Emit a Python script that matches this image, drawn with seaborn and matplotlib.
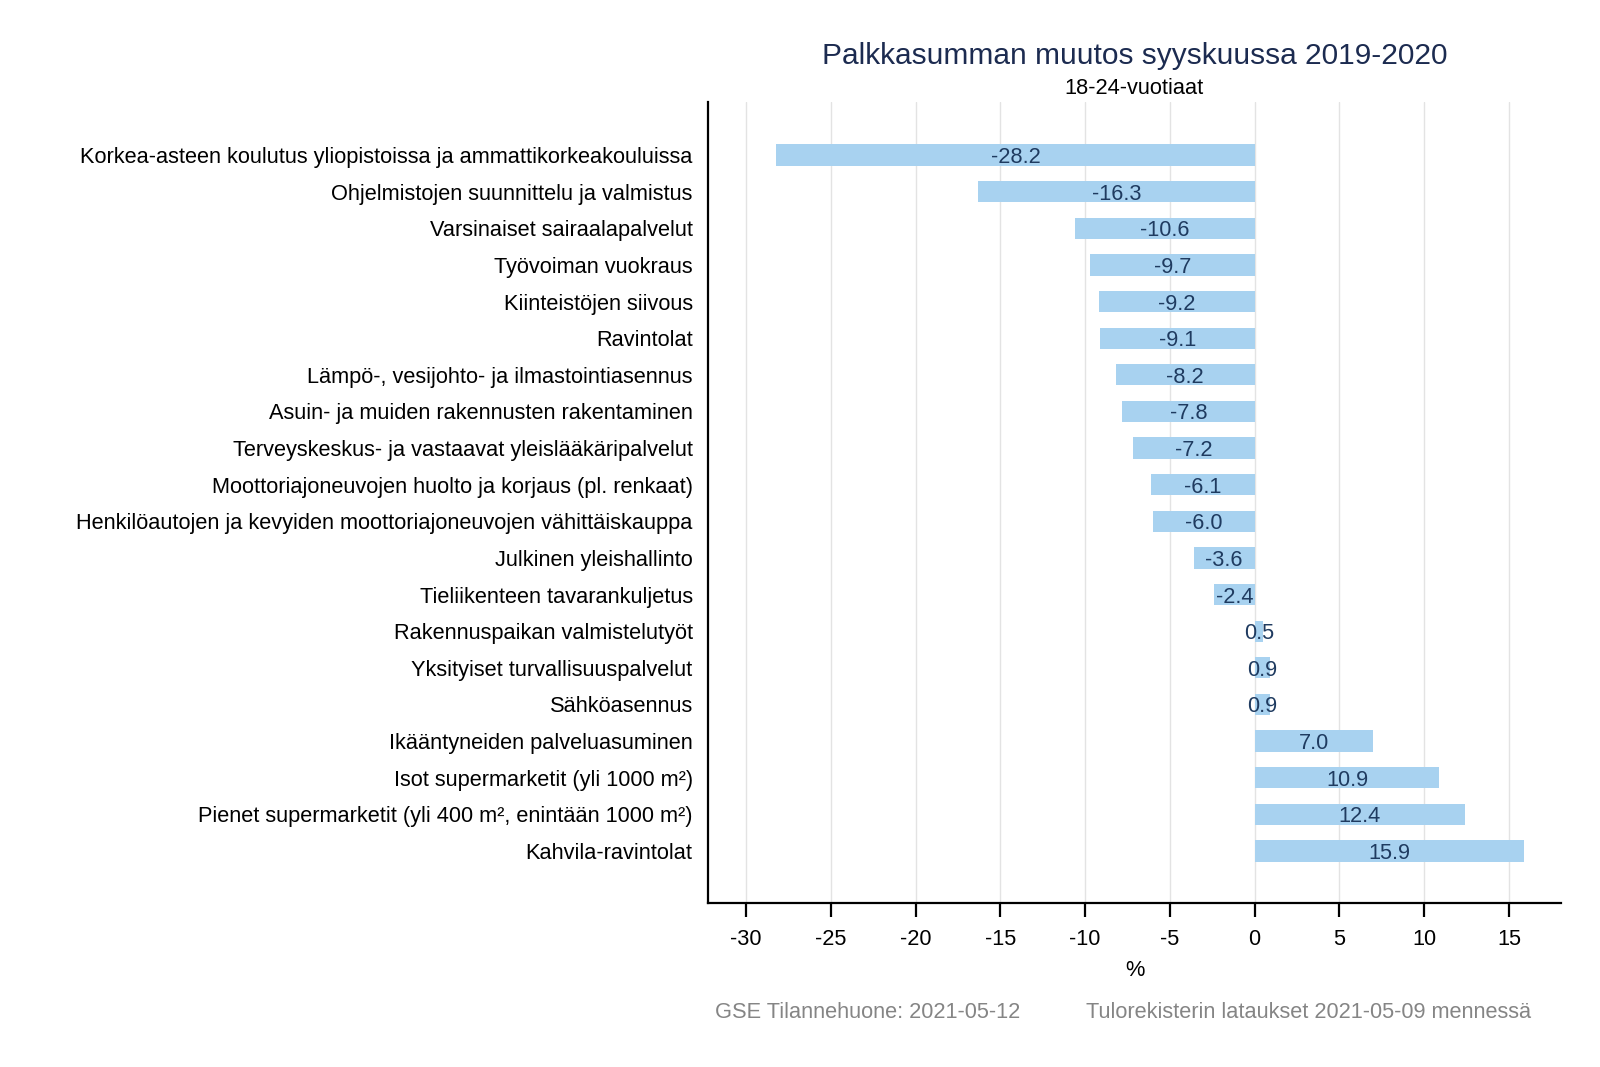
import matplotlib
matplotlib.use("Agg")
import numpy as np
import pandas as pd
import matplotlib.pyplot as plt
import seaborn as sns

CATEGORIES = [
    "Korkea-asteen koulutus yliopistoissa ja ammattikorkeakouluissa",
    "Ohjelmistojen suunnittelu ja valmistus",
    "Varsinaiset sairaalapalvelut",
    "Työvoiman vuokraus",
    "Kiinteistöjen siivous",
    "Ravintolat",
    "Lämpö-, vesijohto- ja ilmastointiasennus",
    "Asuin- ja muiden rakennusten rakentaminen",
    "Terveyskeskus- ja vastaavat yleislääkäripalvelut",
    "Moottoriajoneuvojen huolto ja korjaus (pl. renkaat)",
    "Henkilöautojen ja kevyiden moottoriajoneuvojen vähittäiskauppa",
    "Julkinen yleishallinto",
    "Tieliikenteen tavarankuljetus",
    "Rakennuspaikan valmistelutyöt",
    "Yksityiset turvallisuuspalvelut",
    "Sähköasennus",
    "Ikääntyneiden palveluasuminen",
    "Isot supermarketit (yli 1000 m²)",
    "Pienet supermarketit (yli 400 m², enintään 1000 m²)",
    "Kahvila-ravintolat",
]
CHANGE = [-28.2, -16.3, -10.6, -9.7, -9.2, -9.1, -8.2, -7.8, -7.2, -6.1,
          -6.0, -3.6, -2.4, 0.5, 0.9, 0.9, 7.0, 10.9, 12.4, 15.9]
XTICKS = [-30, -25, -20, -15, -10, -5, 0, 5, 10, 15]

TITLE = "Palkkasumman muutos syyskuussa 2019-2020"
SUBTITLE = "18-24-vuotiaat"
FOOT_LEFT = "GSE Tilannehuone: 2021-05-12"
FOOT_RIGHT = "Tulorekisterin lataukset 2021-05-09 mennessä"

BAR_COLOR = "#a8d2f0"
LABEL_COLOR = "#1f3b60"
FS = 15.7

sns.set_theme(style="white")
plt.rcParams["font.family"] = ["Liberation Sans", "DejaVu Sans"]

df = pd.DataFrame({"ala": CATEGORIES, "muutos": CHANGE})

fig = plt.figure(figsize=(16, 10.67), dpi=100)
ax = fig.add_axes([0.4425, 0.1537, 0.5331, 0.7507])

sns.barplot(data=df, x="muutos", y="ala", orient="h", color=BAR_COLOR,
            saturation=1, width=0.58, linewidth=0, ax=ax)

# value labels sit in the middle of each bar
for i, v in enumerate(CHANGE):
    ax.text(v / 2, i, f"{v:.1f}", ha="center", va="center_baseline",
            fontsize=FS, color=LABEL_COLOR)

ax.set_xlim(-32.24, 18.07)
ax.set_ylim(len(CATEGORIES) - 1 + 1.42, -1.45)
ax.set_xticks(XTICKS)
ax.set_xticklabels([str(t) for t in XTICKS])
ax.xaxis.grid(True, color="#e3e3e3", linewidth=1)
ax.yaxis.grid(False)
ax.set_axisbelow(True)

for side in ["top", "right"]:
    ax.spines[side].set_visible(False)
for side in ["left", "bottom"]:
    ax.spines[side].set_color("black")
    ax.spines[side].set_linewidth(1.6)

ax.tick_params(axis="x", bottom=True, length=10, width=1.6, color="black",
               labelsize=FS, labelcolor="black", pad=9)
ax.tick_params(axis="y", left=False, length=0, labelsize=FS,
               labelcolor="black", pad=11)
ax.set_xlabel("%", fontsize=FS, color="black", labelpad=7)
ax.set_ylabel("")

cx = 0.4425 + 0.5331 / 2
fig.text(cx, 1 - 56 / 1067, TITLE, ha="center", va="center",
         fontsize=21.5, color="#1c2b50")
fig.text(cx, 1 - 89 / 1067, SUBTITLE, ha="center", va="center",
         fontsize=FS, color="black")
fig.text(715 / 1600, 1 - 1012 / 1067, FOOT_LEFT, ha="left", va="center",
         fontsize=FS, color="#858585")
fig.text(1531 / 1600, 1 - 1012 / 1067, FOOT_RIGHT, ha="right", va="center",
         fontsize=FS, color="#858585")

fig.savefig("out.png", dpi=100)
